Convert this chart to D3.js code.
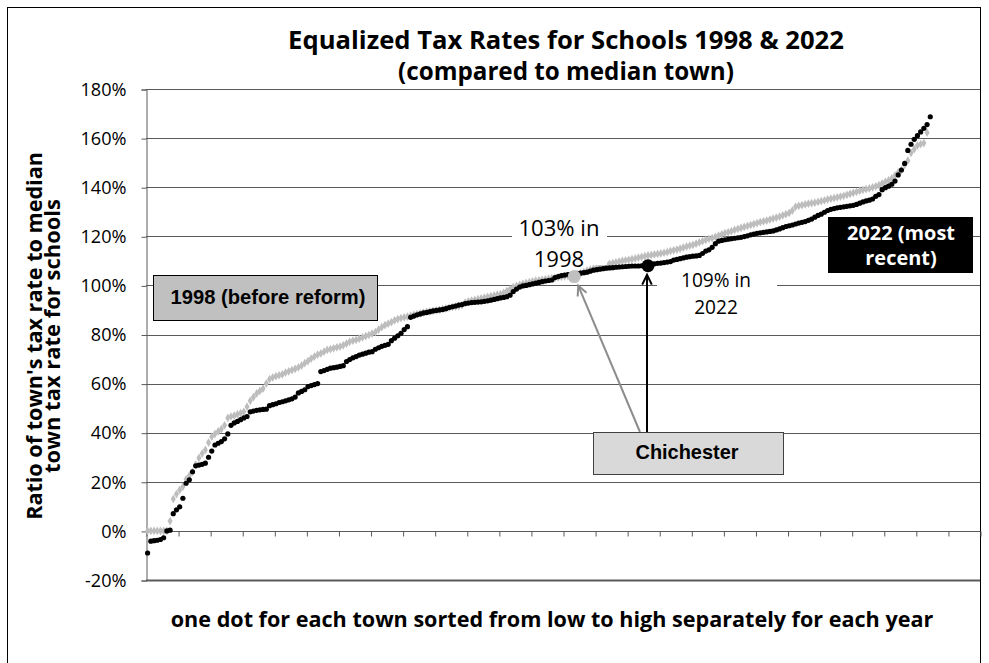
<!DOCTYPE html>
<html><head><meta charset="utf-8">
<script src="https://cdn.jsdelivr.net/npm/d3@7"></script>
<style>html,body{margin:0;padding:0;background:#fff}svg{display:block}</style>
</head><body>
<svg id="c" width="989" height="663"></svg>
<script>
// ---- data (percent of median town) ----
const rates2022 = [-9,-4.2,-4,-3.8,-3.5,-2.8,0,0.3,7,8.6,9.8,13.3,19.4,20.8,24.1,26.5,26.8,27.1,27.6,30,
32.5,35,35.7,36.4,37.5,39.5,43,44,44.6,45.3,46,46.6,48.5,48.8,49.1,49.3,49.5,49.6,51,51.4,
51.8,52.3,52.6,53,53.4,53.8,54.5,56.2,56.8,57.5,58.8,59.2,59.6,60,64.9,65.3,65.8,66.3,66.5,66.7,
67,67.3,69,69.8,70.5,71,71.6,72,72.4,72.8,73,74,74.6,75.2,75.6,76,77.5,78.5,79.5,80.5,
82,83.2,87,87.5,88,88.4,88.8,89,89.3,89.6,89.8,90,90.2,90.5,91,91.3,91.6,92,92.2,92.6,
92.8,93,93.1,93.2,93.3,93.5,93.7,94,94.3,94.6,94.9,95.1,95.4,96,97.5,98.5,99.3,99.8,100,100.3,
100.6,100.9,101.2,101.5,101.8,102,102.2,103.2,103.6,104,104.2,104.4,104.5,104.6,104.8,105,105.2,105.4,105.8,106.2,
106.4,106.6,106.8,107,107.1,107.2,107.4,107.5,107.6,107.7,107.8,107.9,107.9,107.9,108,108,108,108.5,108.8,109,
109.1,109.3,109.5,109.7,110.3,110.6,110.9,111.2,111.5,111.7,111.9,112,112.2,113,114,114.5,115.5,117,118,118.3,
118.6,118.8,119,119.2,119.4,119.6,119.9,120.2,120.6,120.9,121.2,121.4,121.6,121.8,122,122.2,122.6,123,123.5,124,
124.3,124.6,125,125.4,125.7,126,126.5,127,127.8,128.5,129,129.8,130.5,131,131.3,131.6,131.8,132,132.2,132.4,
132.6,133,133.5,134,134.4,134.7,135.2,136.3,137,139,139.8,140.4,141.2,142.5,145,147,149.7,155,157.5,159.5,
161,162.5,164,165.5,168.7];
const rates1998 = [0,0,0,0,0,0,0,4,13,15,16.7,18,21,22.5,24,27,29.7,31.5,33,36,
38.4,39.5,40.5,41.5,43,46,46.6,47,47.5,48,48.5,50.6,53,54.5,56,57,58,60,61.8,62.5,
63,63.4,63.8,64.5,65,65.5,66,66.6,67.3,68.3,69.2,70.2,71,71.8,72.3,73,73.7,74,74.4,74.8,
75.1,75.6,76.3,77,77.5,77.8,78.3,78.8,79.3,79.8,80.4,81,82,83,83.8,84.4,85,85.8,86.3,86.7,
87,87.3,87.6,88,88.3,88.6,88.9,89.2,89.4,89.6,89.8,90,90.3,90.6,90.9,91.2,91.4,91.6,92,93,
93.5,93.8,94.1,94.4,94.7,95,95.3,95.6,95.9,96.2,96.5,97,97.7,98.5,99.3,99.8,100.2,100.6,101,101.3,
101.6,101.9,102.1,102.3,102.5,102.7,102.9,103.1,103.3,103.5,103.7,103.9,104.1,103.6,104.6,105,105.5,106,106.4,106.8,
107.2,107.6,108,108.4,108.8,109.1,109.4,109.7,110,110.2,110.4,110.7,111,111.3,111.6,111.9,112.2,112.4,112.6,112.8,
113,113.3,113.6,114,114.3,114.6,115,115.4,115.8,116.2,116.5,117,117.5,118,118.5,119,119.3,119.8,120.3,120.8,
121.3,121.7,122.1,122.6,123,123.4,123.8,124.2,124.6,125,125.4,125.8,126.1,126.4,126.8,127.2,127.6,128,128.5,129,
129.5,130.5,132,132.4,132.7,133,133.3,133.5,133.7,134,134.3,134.6,135,135.3,135.6,135.9,136.2,136.5,136.9,137.3,
137.7,138.1,138.5,138.9,139.2,139.5,139.9,140.3,140.8,141.5,142.2,142.8,143.6,144.8,146,147,149,150.8,154,155.5,
157,157.5,158,162.2];
const categoryCount = 260;             // category slots on the x axis
const xTickEvery = 10;
const yTicks = [-20,0,20,40,60,80,100,120,140,160,180];
const chichesterIndex1998 = 133, chichesterValue1998 = 103.6;
const chichesterIndex2022 = 156, chichesterValue2022 = 108;
const titleLines = ["Equalized Tax Rates for Schools 1998 & 2022","(compared to median town)"];
const yTitleLines = ["Ratio of town's tax rate to median","town tax rate for schools"];
const xTitle = "one dot for each town sorted from low to high separately for each year";
const label1998 = ["103% in","1998"];
const label2022 = ["109% in","2022"];
const legend1998 = "1998 (before reform)";
const legend2022 = ["2022 (most","recent)"];
const townName = "Chichester";

// ---- drawing ----
const svg = d3.select("#c");
const L = 146, R = 980, T = 89, B = 580;
const x = d3.scaleLinear().domain([0, categoryCount]).range([L, R]);
const y = d3.scaleLinear().domain([-20, 180]).range([B, T]);
const cx = i => x(i + 0.5);
const grid = "#5a5a5a";
const FONT = "'Open Sans', Roboto, sans-serif";
const ARIAL = "'Liberation Sans', Arial, sans-serif";

function fit(sel, target){
  const w = sel.node().getComputedTextLength();
  const fs = parseFloat(sel.attr("font-size"));
  const nfs = fs*target/w;
  sel.attr("font-size", nfs.toFixed(2));
  return nfs;
}

// outer frame
svg.append("rect").attr("x",7.5).attr("y",7.5).attr("width",973).attr("height",700)
  .attr("fill","#fff").attr("stroke","#000").attr("stroke-width",1);

// gridlines
svg.append("g").selectAll("line").data(yTicks).join("line")
  .attr("x1",L).attr("x2",R)
  .attr("y1",d=>Math.round(y(d))+0.5).attr("y2",d=>Math.round(y(d))+0.5)
  .attr("stroke",grid).attr("stroke-width",d=>d===-20?2:1);

// y axis
const yAxis = d3.axisLeft(y).tickValues(yTicks).tickFormat(d=>d+"%").tickSize(5).tickPadding(15);
const gy = svg.append("g").attr("transform",`translate(${L+0.5},0.5)`).call(yAxis);
gy.select(".domain").attr("stroke",grid);
gy.selectAll(".tick line").attr("stroke",grid);
const tickTexts = gy.selectAll(".tick text").attr("font-family",FONT).attr("font-size",16).attr("fill","#000");
const topTick = tickTexts.filter(d=>d===180);
const tfs = fit(topTick, 46);
tickTexts.attr("font-size", tfs.toFixed(2));

// x axis (at 0%) with category ticks
const xTickVals = d3.range(0, categoryCount+1, xTickEvery);
const xAxis = d3.axisBottom(x).tickValues(xTickVals).tickFormat("").tickSize(5);
const gx = svg.append("g").attr("transform",`translate(0.5,${Math.round(y(0))+0.5})`).call(xAxis);
gx.select(".domain").attr("stroke",grid).attr("d",`M${L},0H${R}`);
gx.selectAll(".tick line").attr("stroke",grid);

// series 1998 (gray diamonds)
const diamond = d3.symbol().type(d3.symbolDiamond).size(22);
svg.append("g").selectAll("path").data(rates1998).join("path")
  .attr("d",diamond).attr("transform",(d,i)=>`translate(${cx(i)},${y(d)})`)
  .attr("fill","#bdbdbd");
// series 2022 (black dots)
svg.append("g").selectAll("circle").data(rates2022).join("circle")
  .attr("cx",(d,i)=>cx(i)).attr("cy",d=>y(d)).attr("r",2.6).attr("fill","#000");

// highlighted town
svg.append("circle").attr("cx",cx(chichesterIndex1998)).attr("cy",y(chichesterValue1998)).attr("r",6.5).attr("fill","#c0c0c0");
svg.append("circle").attr("cx",cx(chichesterIndex2022)).attr("cy",y(chichesterValue2022)).attr("r",6.5).attr("fill","#000");

// white label boxes
function label(lines, cxp, y0, box, w0){
  svg.append("rect").attr("x",box[0]).attr("y",box[1]).attr("width",box[2]).attr("height",box[3]).attr("fill","#fff");
  const t0 = svg.append("text").attr("x",cxp).attr("y",y0).attr("text-anchor","middle")
      .attr("font-family",FONT).attr("font-size",18).attr("fill","#000").text(lines[0]);
  const fs = fit(t0, w0);
  svg.append("text").attr("x",cxp).attr("y",y0+fs*1.4).attr("text-anchor","middle")
      .attr("font-family",FONT).attr("font-size",fs.toFixed(2)).attr("fill","#000").text(lines[1]);
}
label(label1998, 559, 236, [512, 213, 95, 52], 81);
label(label2022, 716, 287, [657, 270, 120, 48], 70);

// arrows
const boxX = 593, boxY = 432, boxW = 190, boxH = 42;
function arrow(x1,y1,x2,y2,color){
  svg.append("line").attr("x1",x1).attr("y1",y1).attr("x2",x2).attr("y2",y2)
    .attr("stroke",color).attr("stroke-width",2);
  const a = Math.atan2(y2-y1, x2-x1), len=11, sp=0.45;
  const p = d3.path();
  p.moveTo(x2 - len*Math.cos(a-sp), y2 - len*Math.sin(a-sp));
  p.lineTo(x2,y2);
  p.lineTo(x2 - len*Math.cos(a+sp), y2 - len*Math.sin(a+sp));
  svg.append("path").attr("d",p.toString()).attr("fill","none").attr("stroke",color).attr("stroke-width",2);
}
arrow(640, boxY, cx(chichesterIndex1998)+4, y(chichesterValue1998)+9, "#8c8c8c");
arrow(cx(chichesterIndex2022)-1, boxY, cx(chichesterIndex2022)-1, y(chichesterValue2022)+9, "#000");

// Chichester box
svg.append("rect").attr("x",boxX+0.5).attr("y",boxY+0.5).attr("width",boxW).attr("height",boxH)
  .attr("fill","#d9d9d9").attr("stroke","#404040").attr("stroke-width",1);
const chi = svg.append("text").attr("x",boxX+boxW/2-1).attr("y",boxY+boxH/2+6).attr("text-anchor","middle")
  .attr("font-family",ARIAL).attr("font-weight","bold").attr("font-size",17).text(townName);
fit(chi, 103);

// 1998 legend box
svg.append("rect").attr("x",153.5).attr("y",275.5).attr("width",224).attr("height",45)
  .attr("fill","#c0c0c0").attr("stroke","#000").attr("stroke-width",1);
fit(svg.append("text").attr("x",268).attr("y",304).attr("text-anchor","middle")
  .attr("font-family",ARIAL).attr("font-weight","bold")
  .attr("font-size",16).text(legend1998), 195);

// 2022 legend box
svg.append("rect").attr("x",828).attr("y",217).attr("width",145).attr("height",56).attr("fill","#000");
const l1 = svg.append("text").attr("x",901).attr("y",240).attr("text-anchor","middle")
    .attr("font-family",FONT).attr("font-weight","bold").attr("font-size",18)
    .attr("fill","#fff").text(legend2022[0]);
const lfs = fit(l1, 108);
svg.append("text").attr("x",901).attr("y",265).attr("text-anchor","middle")
    .attr("font-family",FONT).attr("font-weight","bold").attr("font-size",lfs.toFixed(2))
    .attr("fill","#fff").text(legend2022[1]);

// title
const tw = [556, 336];
titleLines.forEach((t,k)=>{
  fit(svg.append("text").attr("x",566).attr("y",49+k*31).attr("text-anchor","middle")
    .attr("font-family",FONT).attr("font-weight","bold").attr("font-size",22).text(t), tw[k]);
});

// y title
const yw = [368, 274];
yTitleLines.forEach((t,k)=>{
  fit(svg.append("text").attr("transform",`translate(${42+k*18},336) rotate(-90)`)
    .attr("text-anchor","middle").attr("font-family",FONT).attr("font-weight","bold")
    .attr("font-size",16).text(t), yw[k]);
});

// x title
fit(svg.append("text").attr("x",552).attr("y",627).attr("text-anchor","middle")
  .attr("font-family",FONT).attr("font-weight","bold").attr("font-size",17).text(xTitle), 763);
</script>
</body></html>
